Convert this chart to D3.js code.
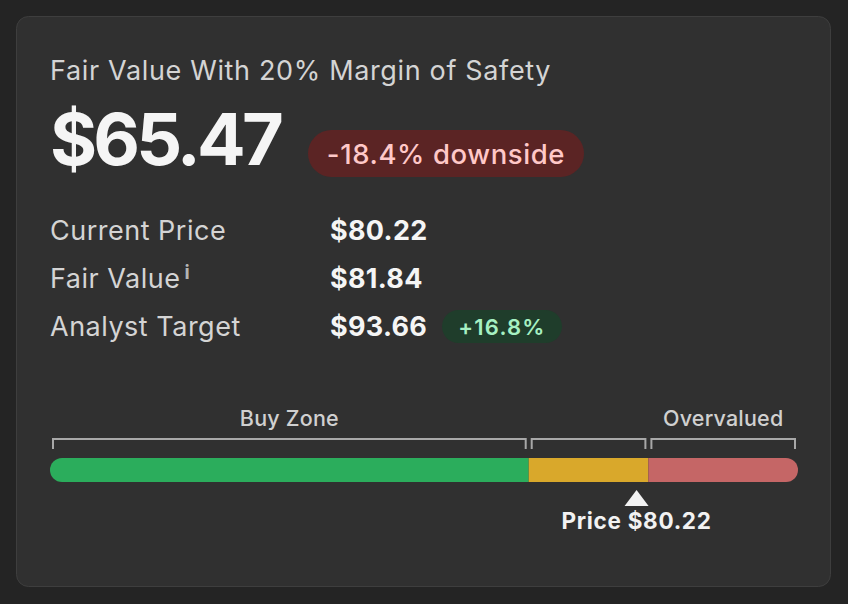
<!DOCTYPE html>
<html>
<head>
<meta charset="utf-8">
<script src="https://cdn.jsdelivr.net/npm/d3@7"></script>
<style>
  html, body { margin: 0; padding: 0; background: #242424; }
  svg { display: block; font-family: Inter, "Noto Sans", sans-serif; }
</style>
</head>
<body>
<div id="chart"></div>
<script>
var title = "Fair Value With 20% Margin of Safety";
var mosValue = 65.47;
var downsideLabel = "-18.4% downside";
var rowLabels = ["Current Price", "Fair Value", "Analyst Target"];
var rowValues = [80.22, 81.84, 93.66];
var targetBadge = "+16.8%";
var currentPrice = 80.22;
var fairValue = 81.84;

// zones on the bar
var zoneNames = ["Buy Zone", "", "Overvalued"];
var zoneStarts = [0, mosValue, fairValue];
var zoneEnds = [mosValue, fairValue, fairValue * 1.25];
var zoneColors = ["#2bad5c", "#d9a82b", "#c56666"];

var W = 848, H = 604;
var svg = d3.select("#chart").append("svg")
    .attr("width", W)
    .attr("height", H);

// card
svg.append("rect")
    .attr("x", 16.5).attr("y", 16.5)
    .attr("width", 814).attr("height", 570)
    .attr("rx", 12)
    .attr("fill", "#303030")
    .attr("stroke", "#3e3e3e")
    .attr("stroke-width", 1);

svg.append("text")
    .attr("x", 50).attr("y", 79.5)
    .attr("font-size", 27)
    .attr("letter-spacing", 0.65)
    .attr("fill", "#d4d4d4")
    .text(title);

var fmt = function(v) { return "$" + d3.format(".2f")(v); };

svg.append("text")
    .attr("x", 50).attr("y", 165)
    .attr("font-size", 72)
    .attr("font-weight", 700)
    .attr("letter-spacing", -3.8)
    .attr("fill", "#f5f5f5")
    .text(fmt(mosValue));

// downside pill
var pill = svg.append("g").attr("transform", "translate(308,130)");
pill.append("rect")
    .attr("width", 276).attr("height", 47)
    .attr("rx", 23.5)
    .attr("fill", "#5b2424");
pill.append("text")
    .attr("x", 138).attr("y", 34)
    .attr("text-anchor", "middle")
    .attr("font-size", 27.5)
    .attr("font-weight", 500)
    .attr("letter-spacing", 0.6)
    .attr("fill", "#ffc8c8")
    .text(downsideLabel);

// detail rows
var rowY = d3.scalePoint().domain(rowLabels).range([239.5, 336]);

var rows = svg.selectAll("g.row")
    .data(rowLabels)
    .enter().append("g")
    .attr("class", "row")
    .attr("transform", function(d) { return "translate(0," + rowY(d) + ")"; });

rows.append("text")
    .attr("x", 50)
    .attr("font-size", 27)
    .attr("letter-spacing", 0.5)
    .attr("fill", "#d4d4d4")
    .text(function(d) { return d; });

rows.append("text")
    .attr("x", 330)
    .attr("font-size", 27)
    .attr("font-weight", 700)
    .attr("letter-spacing", 0.3)
    .attr("fill", "#f5f5f5")
    .text(function(d, i) { return fmt(rowValues[i]); });

// little "i" next to Fair Value
svg.append("text")
    .attr("x", 184.5).attr("y", rowY("Fair Value") - 9)
    .attr("font-size", 19)
    .attr("font-weight", 700)
    .attr("fill", "#b4b4b4")
    .text("i");

var gb = svg.append("g").attr("transform", "translate(442,310)");
gb.append("rect")
    .attr("width", 120).attr("height", 33)
    .attr("rx", 16.5)
    .attr("fill", "#1f3d2b");
gb.append("text")
    .attr("x", 60).attr("y", 25)
    .attr("text-anchor", "middle")
    .attr("font-size", 22)
    .attr("font-weight", 600)
    .attr("letter-spacing", 1.2)
    .attr("fill", "#a6f0c2")
    .text(targetBadge);

// valuation bar
var x = d3.scaleLinear()
    .domain([0, fairValue * 1.25])
    .range([50, 798]);

var barY = 458, barH = 24;

svg.append("clipPath").attr("id", "barclip")
  .append("rect")
    .attr("x", x(0)).attr("y", barY)
    .attr("width", x(fairValue * 1.25) - x(0)).attr("height", barH)
    .attr("rx", barH / 2);

svg.append("g").attr("clip-path", "url(#barclip)")
  .selectAll("rect")
  .data(zoneStarts)
  .enter().append("rect")
    .attr("x", function(d) { return x(d); })
    .attr("y", barY)
    .attr("width", function(d, i) { return x(zoneEnds[i]) - x(d); })
    .attr("height", barH)
    .attr("fill", function(d, i) { return zoneColors[i]; });

// brackets above each zone
var brTop = 439, brBot = 449, inset = 3;
svg.selectAll("path.bracket")
  .data(zoneStarts)
  .enter().append("path")
    .attr("class", "bracket")
    .attr("d", function(d, i) {
      var x0 = x(d) + inset, x1 = x(zoneEnds[i]) - inset;
      return "M" + x0 + "," + brBot + "V" + brTop + "H" + x1 + "V" + brBot;
    })
    .attr("fill", "none")
    .attr("stroke", "#a8a8a8")
    .attr("stroke-width", 2);

svg.selectAll("text.zone")
  .data(zoneNames)
  .enter().append("text")
    .attr("class", "zone")
    .attr("x", function(d, i) { return (x(zoneStarts[i]) + x(zoneEnds[i])) / 2; })
    .attr("y", 426)
    .attr("text-anchor", "middle")
    .attr("font-size", 21.5)
    .attr("font-weight", 500)
    .attr("letter-spacing", 0.2)
    .attr("fill", "#d0d0d0")
    .text(function(d) { return d; });

// price marker
var px = x(currentPrice);
svg.append("path")
    .attr("d", "M" + (px - 12) + ",506L" + px + ",490L" + (px + 12) + ",506Z")
    .attr("fill", "#f2f2f2");

svg.append("text")
    .attr("x", px).attr("y", 529)
    .attr("text-anchor", "middle")
    .attr("font-size", 22.5)
    .attr("font-weight", 700)
    .attr("letter-spacing", 0.7)
    .attr("fill", "#f2f2f2")
    .text("Price " + fmt(currentPrice));
</script>
</body>
</html>
